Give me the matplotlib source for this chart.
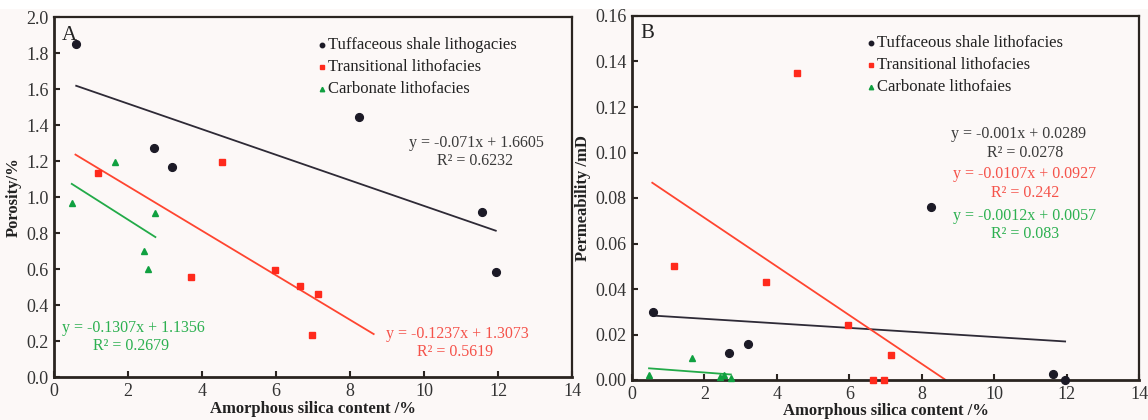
import matplotlib
matplotlib.use("Agg")
import matplotlib.pyplot as plt
import numpy as np

plt.rcParams['font.family'] = ['Liberation Serif', 'DejaVu Serif']
plt.rcParams['mathtext.fontset'] = 'stix'

# ---------------- data ----------------
# Panel A: porosity (%) vs amorphous silica content (%)
tuff_x_A = [0.6, 2.69, 3.19, 8.24, 11.58, 11.94]
tuff_y_A = [1.85, 1.275, 1.167, 1.445, 0.915, 0.582]
trans_x_A = [1.18, 4.55, 3.70, 5.97, 6.65, 7.14, 6.96]
trans_y_A = [1.135, 1.195, 0.558, 0.597, 0.506, 0.461, 0.235]
carb_x_A = [0.48, 1.66, 2.74, 2.43, 2.55]
carb_y_A = [0.968, 1.195, 0.913, 0.70, 0.598]

# Panel B: permeability (mD) vs amorphous silica content (%)
tuff_x_B = [0.58, 2.69, 3.19, 8.26, 11.62, 11.96]
tuff_y_B = [0.030, 0.012, 0.016, 0.076, 0.0025, 0.0]
trans_x_B = [1.17, 4.55, 3.70, 5.97, 7.15, 6.66, 6.96]
trans_y_B = [0.050, 0.135, 0.043, 0.0243, 0.011, 0.0, 0.0]
carb_x_B = [0.47, 1.65, 2.42, 2.55, 2.73]
carb_y_B = [0.0022, 0.0098, 0.0012, 0.0022, 0.0009]

# linear fits (slope, intercept, x-range)
fit_tuff_A = (-0.071, 1.6605, [0.6, 11.94])
fit_trans_A = (-0.1237, 1.3073, [0.58, 8.64])
fit_carb_A = (-0.1307, 1.1356, [0.48, 2.74])
fit_tuff_B = (-0.001, 0.0289, [0.58, 11.96])
fit_trans_B = (-0.0107, 0.0927, [0.56, 8.66])
fit_carb_B = (-0.0012, 0.0057, [0.47, 2.73])

eq_A = ["y = -0.071x + 1.6605", "R² = 0.6232",
        "y = -0.1237x + 1.3073", "R² = 0.5619",
        "y = -0.1307x + 1.1356", "R² = 0.2679"]
eq_B = ["y = -0.001x + 0.0289", "R² = 0.0278",
        "y = -0.0107x + 0.0927", "R² = 0.242",
        "y = -0.0012x + 0.0057", "R² = 0.083"]

legend_A = ["Tuffaceous shale lithogacies", "Transitional lithofacies", "Carbonate lithofacies"]
legend_B = ["Tuffaceous shale lithofacies", "Transitional lithofacies", "Carbonate lithofaies"]

xticks = [0, 2, 4, 6, 8, 10, 12, 14]
yticks_A = [0.0, 0.2, 0.4, 0.6, 0.8, 1.0, 1.2, 1.4, 1.6, 1.8, 2.0]
yticks_B = [0.00, 0.02, 0.04, 0.06, 0.08, 0.10, 0.12, 0.14, 0.16]

# ---------------- style ----------------
W, H = 1148, 420
BG = '#fcf8f7'
C_BLK = '#1c1a26'
C_BLK_LINE = '#2e2a36'
C_BLK_TXT = '#3a3a3a'
C_RED = '#ff2a1c'
C_RED_LINE = '#ff4530'
C_RED_TXT = '#f5524a'
C_GRN = '#10a040'
C_GRN_LINE = '#22aa48'
C_GRN_TXT = '#2cb050'
SPINE = '#2a2420'

fig = plt.figure(figsize=(W / 100, H / 100), dpi=100, facecolor=BG)
fig.patches.append(plt.Rectangle((0, 1 - 9 / H), 1, 9 / H, transform=fig.transFigure,
                                 facecolor='white', edgecolor='none', zorder=-5))


def px(x, y):
    return x / W, 1 - y / H


def make_ax(l, t, r, b):
    ax = fig.add_axes([l / W, 1 - b / H, (r - l) / W, (b - t) / H])
    ax.set_facecolor(BG)
    for s in ['left', 'bottom']:
        ax.spines[s].set_linewidth(2.0)
        ax.spines[s].set_color(SPINE)
    for s in ['top', 'right']:
        ax.spines[s].set_linewidth(1.6)
        ax.spines[s].set_color(SPINE)
    ax.tick_params(direction='in', length=4, width=1.5, color=SPINE,
                   labelsize=13, labelcolor='#333333', pad=4)
    return ax


def draw(ax, data, fits, ylim, yticks, yfmt):
    (tx, ty), (rx, ry), (gx, gy) = data
    for (m, b, xr), col in zip(fits, [C_BLK_LINE, C_RED_LINE, C_GRN_LINE]):
        xs = np.array(xr)
        ax.plot(xs, m * xs + b, color=col, lw=1.3, zorder=2)
    ax.plot(tx, ty, 'o', color=C_BLK, ms=5.6, zorder=3, clip_on=False)
    ax.plot(rx, ry, 's', color=C_RED, ms=5.0, zorder=3, clip_on=False)
    ax.plot(gx, gy, '^', color=C_GRN, ms=5.0, zorder=3, clip_on=False)
    ax.set_xlim(0, 14)
    ax.set_ylim(*ylim)
    ax.set_xticks(xticks)
    ax.set_yticks(yticks)
    ax.set_yticklabels([yfmt.format(v) for v in yticks])
    ax.set_xticklabels([str(v) for v in xticks])


# Panel A
axA = make_ax(54, 17, 572, 377)
draw(axA, [(tuff_x_A, tuff_y_A), (trans_x_A, trans_y_A), (carb_x_A, carb_y_A)],
     [fit_tuff_A, fit_trans_A, fit_carb_A], (0, 2.0), yticks_A, "{:.1f}")
axA.set_xlabel("Amorphous silica content /%", fontsize=12, fontweight='bold',
               labelpad=1, color='#222222')
axA.set_ylabel("Porosity/%", fontsize=12, fontweight='bold', labelpad=3, color='#222222')

# Panel B
axB = make_ax(632, 16, 1139, 380)
draw(axB, [(tuff_x_B, tuff_y_B), (trans_x_B, trans_y_B), (carb_x_B, carb_y_B)],
     [fit_tuff_B, fit_trans_B, fit_carb_B], (0, 0.16), yticks_B, "{:.2f}")
axB.set_xlabel("Amorphous silica content /%", fontsize=12, fontweight='bold',
               labelpad=0, color='#222222')
axB.set_ylabel("Permeability /mD", fontsize=12, fontweight='bold', labelpad=3, color='#222222')

# panel letters
fig.text(*px(62, 35), "A", fontsize=15, color='#222222', va='center', ha='left')
fig.text(*px(640, 33), "B", fontsize=15, color='#222222', va='center', ha='left')

# legends
def legend(x_m, ys, labels):
    for y, lab, mk, col in zip(ys, labels, ['o', 's', '^'], [C_BLK, C_RED, C_GRN]):
        fig.lines.append(plt.Line2D([x_m / W], [1 - y / H], marker=mk, color=col,
                                    ms=3.2, lw=0, transform=fig.transFigure))
        fig.text(*px(x_m + 6, y), lab, fontsize=12, color='#222222', va='center', ha='left')

legend(322, [45, 67, 89], legend_A)
legend(871, [43, 65, 87], legend_B)

# equations
def eq(cx, y, txt, col):
    fig.text(*px(cx, y), txt, fontsize=11.5, color=col, va='center', ha='center')

eq(476, 143, eq_A[0], C_BLK_TXT); eq(475, 161, eq_A[1], C_BLK_TXT)
eq(457, 334, eq_A[2], C_RED_TXT); eq(455, 352, eq_A[3], C_RED_TXT)
eq(133, 328, eq_A[4], C_GRN_TXT); eq(131, 346, eq_A[5], C_GRN_TXT)
eq(1019, 134, eq_B[0], C_BLK_TXT); eq(1025, 153, eq_B[1], C_BLK_TXT)
eq(1025, 174, eq_B[2], C_RED_TXT); eq(1025, 193, eq_B[3], C_RED_TXT)
eq(1025, 216, eq_B[4], C_GRN_TXT); eq(1025, 234, eq_B[5], C_GRN_TXT)

fig.savefig("out.png", dpi=100, facecolor=BG)
